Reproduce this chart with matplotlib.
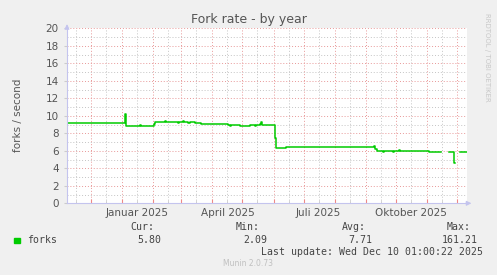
import matplotlib
matplotlib.use("Agg")
import matplotlib.pyplot as plt
import matplotlib.dates as mdates
import matplotlib.transforms as mtrans
import numpy as np
import pandas as pd

dates = [
    "2024-11-07", "2025-01-04", "2025-01-05", "2025-01-19", "2025-01-20",
    "2025-01-24", "2025-01-26", "2025-01-28", "2025-01-30", "2025-02-02", "2025-02-03",
    "2025-02-13", "2025-02-14", "2025-02-26", "2025-02-27", "2025-03-01", "2025-03-03",
    "2025-03-04", "2025-03-08", "2025-03-10", "2025-03-15", "2025-03-20", "2025-03-21",
    "2025-04-01", "2025-04-17", "2025-04-19", "2025-04-20", "2025-04-29", "2025-05-09",
    "2025-05-14", "2025-05-15", "2025-05-19", "2025-05-20", "2025-05-21", "2025-06-02",
    "2025-06-03", "2025-06-06", "2025-06-09", "2025-06-11", "2025-06-13",
    "2025-07-18", "2025-07-19", "2025-08-14", "2025-08-15", "2025-09-09", "2025-09-10",
    "2025-09-12", "2025-09-18", "2025-09-19", "2025-09-28", "2025-09-29", "2025-10-04",
    "2025-10-05", "2025-11-03", "2025-11-05", "2025-11-15", "2025-11-23",
    "2025-11-28", "2025-11-29", "2025-12-04", "2025-12-11",
]
values = [
    9.14, 10.2, 8.83, 8.92, 8.83,
    8.88, 8.78, 8.86, 8.80, 9.05, 9.29,
    9.35, 9.27, 9.22, 9.32, 9.25, 9.35,
    9.27, 9.22, 9.28, 9.14, 9.20, 9.12,
    9.03, 8.91, 8.85, 8.91, 8.83, 8.91,
    8.86, 8.91, 9.10, 9.33, 8.95, 7.50,
    6.36, 6.28, 6.35, 6.28, 6.43,
    6.38, 6.43, 6.38, 6.43, 6.50, 6.20,
    6.01, 5.88, 6.01, 5.88, 6.01, 6.08,
    6.01, 5.85, 5.90, np.nan, 5.90,
    4.57, np.nan, 5.85, 5.85,
]

month_labels = ["Januar 2025", "April 2025", "Juli 2025", "Oktober 2025"]
label_dates = ["2025-01-16", "2025-04-16", "2025-07-16", "2025-10-16"]

legend_heads = ["Cur:", "Min:", "Avg:", "Max:"]
legend_vals = ["5.80", "2.09", "7.71", "161.21"]

bg = "#f0f0f0"
green = "#00cc00"
axcol = "#c4c4ee"
txt = "#555555"

fig = plt.figure(figsize=(4.97, 2.75), dpi=100, facecolor=bg)
W, H = 497, 275
ax = fig.add_axes([67 / W, 1 - 203.3 / H, 400 / W, 175 / H])
ax.set_facecolor("white")

x = pd.to_datetime(dates)
ax.plot(x, values, color=green, lw=1.1, drawstyle="steps-post")

x0, x1 = pd.Timestamp("2024-11-07"), pd.Timestamp("2025-12-11")
ax.set_xlim(x0, x1)
ax.set_ylim(0, 20)

# grid
ax.xaxis.set_major_locator(mdates.MonthLocator(bymonthday=1))
ax.xaxis.set_minor_locator(mdates.MonthLocator(bymonthday=16))
ax.set_yticks(np.arange(0, 21, 2))
ax.set_yticks(np.arange(1, 20, 2), minor=True)
ax.grid(which="minor", color="#c4c4c4", linestyle=(0, (1, 2)), lw=0.7)
ax.grid(which="major", color="#e89898", linestyle=(0, (1, 2)), lw=0.7)
ax.set_axisbelow(True)
ax.set_xticklabels([])
ax.tick_params(axis="x", which="major", length=3, color="#ee8888", direction="in", pad=2)
ax.tick_params(axis="x", which="minor", length=2, color="#cccccc", direction="in")
ax.tick_params(axis="y", which="major", length=2, color="#cccccc", labelsize=7.5,
               labelcolor=txt, pad=4)
ax.tick_params(axis="y", which="minor", length=0)
for s in ["top", "right"]:
    ax.spines[s].set_visible(False)
for s in ["left", "bottom"]:
    ax.spines[s].set_color(axcol)
    ax.spines[s].set_linewidth(0.8)

# axis arrows
ax.annotate("", xy=(1.018, 0), xytext=(0.99, 0), xycoords="axes fraction",
            arrowprops=dict(arrowstyle="-|>", color=axcol, lw=0.8, mutation_scale=7),
            annotation_clip=False)
ax.annotate("", xy=(0, 1.04), xytext=(0, 0.99), xycoords="axes fraction",
            arrowprops=dict(arrowstyle="-|>", color=axcol, lw=0.8, mutation_scale=7),
            annotation_clip=False)

trans = mtrans.blended_transform_factory(ax.transData, fig.transFigure)
for d, lab in zip(pd.to_datetime(label_dates), month_labels):
    ax.text(d, 1 - 213 / H, lab, transform=trans, ha="center", va="center",
            fontsize=7.5, color=txt)

fig.text(249 / W, 1 - 19 / H, "Fork rate - by year", ha="center", va="center",
         fontsize=9, color="#555555")
fig.text(18 / W, 1 - 115 / H, "forks / second", rotation=90, ha="center", va="center",
         fontsize=7.5, color=txt)
fig.text(487 / W, 1 - 57 / H, "RRDTOOL / TOBI OETIKER", rotation=270, ha="center",
         va="center", fontsize=5, color="#c8c8c8")

mono = dict(family="DejaVu Sans Mono", fontsize=7.1, color="#444444")
ends_h = [154, 260, 366, 471]
ends_v = [161, 267, 372, 478]
for e, h in zip(ends_h, legend_heads):
    fig.text(e / W, 1 - 227 / H, h, ha="right", va="center", **mono)
for e, v in zip(ends_v, legend_vals):
    fig.text(e / W, 1 - 240 / H, v, ha="right", va="center", **mono)
fig.patches.append(plt.Rectangle((14 / W, 1 - 243 / H), 5.5 / W, 5.5 / H,
                                 transform=fig.transFigure, color=green))
fig.text(27 / W, 1 - 240 / H, "forks", ha="left", va="center", **mono)
fig.text(483 / W, 1 - 252 / H, "Last update: Wed Dec 10 01:00:22 2025", ha="right",
         va="center", **mono)
fig.text(248 / W, 1 - 264 / H, "Munin 2.0.73", ha="center", va="center",
         fontsize=5.5, color="#c0c0c0")

fig.savefig("out.png", dpi=100, facecolor=bg)
